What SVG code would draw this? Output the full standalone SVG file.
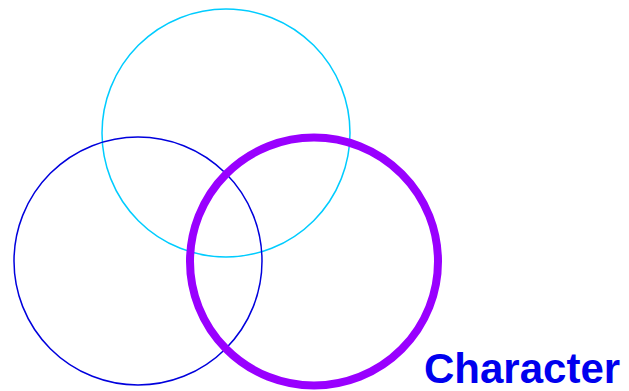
<svg xmlns="http://www.w3.org/2000/svg" width="629" height="391" viewBox="0 0 629 391">
<style>
.c{fill:none}
.t{font-family:"Liberation Sans",Arial,sans-serif;font-weight:bold;fill:#0000EE}
</style>
<rect width="629" height="391" fill="#fff"/>
<g id="cyan"><circle class="c" cx="226" cy="133" r="124" stroke="#00CCFF" stroke-width="1.5"/></g>
<g id="blue"><circle class="c" cx="138" cy="261" r="124" stroke="#0000DD" stroke-width="1.5"/></g>
<g id="purple"><circle class="c" cx="314" cy="261.5" r="124" stroke="#9900FF" stroke-width="8"/></g>
<g id="label"><text class="t" x="424" y="383" font-size="42">Character</text></g>
</svg>
